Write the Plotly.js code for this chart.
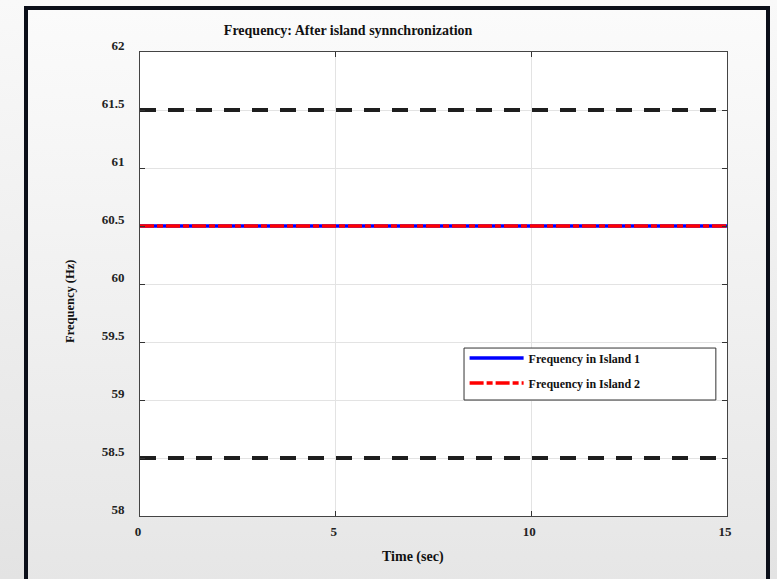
<!DOCTYPE html>
<html>
<head>
<meta charset="utf-8">
<script src="https://cdn.plot.ly/plotly-3.0.1.min.js"></script>
<style>
  html, body { margin: 0; padding: 0; width: 777px; height: 579px; overflow: hidden;
    background: linear-gradient(to bottom, #f9f9f9 0%, #e3e3e3 100%); }
  #frame { position: absolute; left: 24px; top: 6px; width: 738px; height: 600px;
    border: 4px solid #0b0f19; background: linear-gradient(to bottom, #fbfbfb 0%, #e5e5e5 100%); }
  #chart { position: absolute; left: 0; top: 0; width: 777px; height: 579px; }
</style>
</head>
<body>
<div id="frame"></div>
<div id="chart"></div>
<script>
// Data
const timeSec = [0, 15];
const freqIsland1 = [60.5, 60.5];
const freqIsland2 = [60.5, 60.5];
const upperLimit = [61.5, 61.5];
const lowerLimit = [58.5, 58.5];
const seriesNames = ['Frequency in Island 1', 'Frequency in Island 2'];
const xTicks = [0, 5, 10, 15];
const yTicks = [58, 58.5, 59, 59.5, 60, 60.5, 61, 61.5, 62];

const font = 'Liberation Serif, Times New Roman, serif';

const traces = [
  { x: timeSec, y: upperLimit, mode: 'lines', showlegend: false, hoverinfo: 'skip',
    line: { color: '#1e1e1e', width: 4, dash: '16px,12px' } },
  { x: timeSec, y: lowerLimit, mode: 'lines', showlegend: false, hoverinfo: 'skip',
    line: { color: '#1e1e1e', width: 4, dash: '16px,12px' } },
  { x: timeSec, y: freqIsland1, mode: 'lines', name: seriesNames[0], legendgroup: 'a',
    line: { color: '#0000ff', width: 3.5 } },
  { x: timeSec, y: freqIsland2, mode: 'lines', name: seriesNames[1], legendgroup: 'b',
    line: { color: '#ff0000', width: 3.5, dash: '14px,3px,6px,3px' } }
];

const axisCommon = {
  showline: true, linecolor: '#444', linewidth: 1, mirror: 'ticks',
  ticks: 'inside', ticklen: 5, tickcolor: '#333',
  showgrid: true, gridcolor: '#e3e3e3', gridwidth: 1, zeroline: false,
  tickfont: { family: font, size: 13, color: '#222', weight: 'bold' }
};

const layout = {
  width: 777, height: 579,
  paper_bgcolor: 'rgba(0,0,0,0)', plot_bgcolor: '#ffffff',
  margin: { l: 140, r: 50, t: 52, b: 63 },
  showlegend: true,
  title: { text: '<b>Frequency: After island synnchronization</b>', x: 0.448, xanchor: 'center',
    xref: 'container', y: 0.948, yanchor: 'middle', yref: 'container',
    font: { family: font, size: 14, color: '#111' } },
  xaxis: Object.assign({}, axisCommon, {
    range: [0, 15], tickvals: xTicks, ticktext: xTicks.map(String),
    ticklabelstandoff: 3, ticklabelshift: -2
  }),
  yaxis: Object.assign({}, axisCommon, {
    range: [58, 62], tickvals: yTicks, ticktext: yTicks.map(String),
    ticklabelstandoff: 12, ticklabelshift: -7
  }),
  annotations: [
    { text: '<b>Time (sec)</b>', xref: 'paper', yref: 'paper', x: (413 - 140) / 587, y: (516 - 557) / 464,
      xanchor: 'center', yanchor: 'middle', showarrow: false,
      font: { family: font, size: 14, color: '#111' } },
    { text: '<b>Frequency (Hz)</b>', xref: 'paper', yref: 'paper', x: (70 - 140) / 587, y: (516 - 302) / 464,
      xanchor: 'center', yanchor: 'middle', showarrow: false, textangle: -90,
      font: { family: font, size: 12.5, color: '#111' } }
  ],
  legend: {
    x: 0.553, xanchor: 'left', xref: 'paper', y: 0.372, yanchor: 'top', yref: 'paper',
    bgcolor: 'rgba(0,0,0,0)', borderwidth: 0, itemwidth: 54,
    traceorder: 'grouped', tracegroupgap: 6,
    font: { family: font, size: 12, color: '#111', weight: 'bold' }
  },
  shapes: [
    { type: 'rect', xref: 'paper', yref: 'paper', x0: 0.552, x1: 0.981, y0: 0.25, y1: 0.362,
      line: { color: '#333', width: 1 }, fillcolor: '#ffffff', layer: 'above' }
  ]
};

Plotly.newPlot('chart', traces, layout, { displayModeBar: false, staticPlot: true });
</script>
</body>
</html>
